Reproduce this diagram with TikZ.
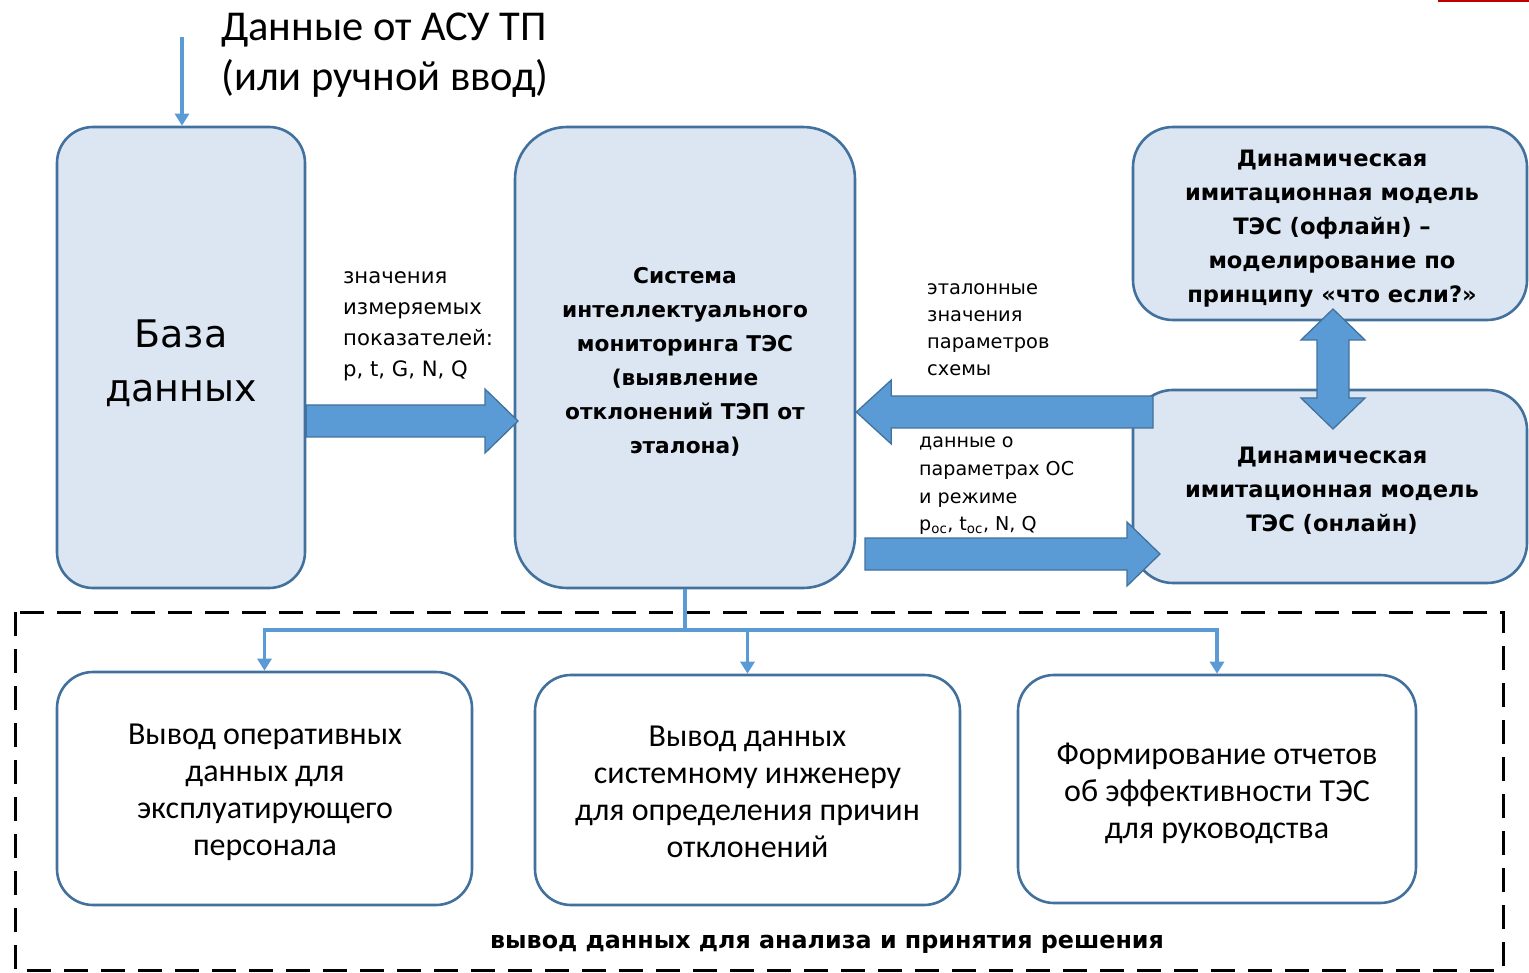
\documentclass[tikz,border=0pt]{standalone}
\usepackage{fontspec}
\setmainfont{DejaVu Sans}
\newfontfamily\calib{Carlito}
\usetikzlibrary{arrows.meta,calc}
\definecolor{boxfill}{HTML}{DCE6F2}
\definecolor{boxline}{HTML}{41719C}
\definecolor{flowblue}{HTML}{5B9BD5}
\definecolor{markred}{HTML}{C00000}
\begin{document}
\begin{tikzpicture}[x=1pt,y=-1pt,
  blockbox/.style={draw=boxline, line width=2.6pt, fill=boxfill, inner sep=0pt},
  outbox/.style={draw=boxline, line width=2.6pt, fill=white, inner sep=0pt, rounded corners=36pt},
  blocktext/.style={inner sep=0pt, align=center},
  boldtxt/.style={blocktext, font=\bfseries\fontsize{21.7}{34}\selectfont},
  modeltxt/.style={blocktext, font=\bfseries\fontsize{22.6}{34}\selectfont},
  outtxt/.style={blocktext, font=\calib\fontsize{32}{37}\selectfont},
  flowlabel/.style={inner sep=0pt, align=left, anchor=north west},
  conn/.style={draw=flowblue, line width=3.4pt},
  tipped/.style={-{Triangle[width=14pt,length=12pt]}},
  fatarrow/.style={draw=boxline, line width=1.3pt, fill=flowblue, line join=miter},
]
\useasboundingbox (0,0) rectangle (1529,973);

% mark at the upper right edge
\draw[markred, line width=3pt] (1438,1) -- (1529,1);

% main blocks
\node[blockbox, rounded corners=36pt, minimum width=248pt, minimum height=461pt] (db) at (181,357.5) {};
\node[blocktext, font=\fontsize{38}{54}\selectfont] (dbT) at (181,363) {База\\данных};
\node[blockbox, rounded corners=52pt, minimum width=340pt, minimum height=461pt] (mon) at (685,357.5) {};
\node[boldtxt] (monT) at (685,362)
      {Система\\интеллектуального\\мониторинга ТЭС\\(выявление\\отклонений ТЭП от\\эталона)};
\node[blockbox, rounded corners=40pt, minimum width=394pt, minimum height=193pt] (off) at (1330,223.5) {};
\node[modeltxt] (offT) at (1332,228.5)
      {Динамическая\\имитационная модель\\ТЭС (офлайн) –\\моделирование по\\принципу «что если?»};
\node[blockbox, rounded corners=40pt, minimum width=394pt, minimum height=193pt] (on) at (1330,486.5) {};
\node[modeltxt] (onT) at (1332,491)
      {Динамическая\\имитационная модель\\ТЭС (онлайн)};

% output group
\draw[black, line width=3pt, dash pattern=on 24pt off 13pt] (15,612) rectangle (1503,970);
\node[outbox, minimum width=415pt, minimum height=233pt] (out1) at (264.5,788.5) {};
\node[outtxt] (out1T) at (265,792.5) {Вывод оперативных\\данных для\\эксплуатирующего\\персонала};
\node[outbox, minimum width=425pt, minimum height=230pt] (out2) at (747.5,790) {};
\node[outtxt] (out2T) at (747.5,791.5) {Вывод данных\\системному инженеру\\для определения причин\\отклонений};
\node[outbox, minimum width=398pt, minimum height=228pt] (out3) at (1217,789) {};
\node[outtxt] (out3T) at (1217,793) {Формирование отчетов\\об эффективности ТЭС\\для руководства};
\node[font=\bfseries\fontsize{23.8}{28}\selectfont, inner sep=0pt] (grp) at (827,944)
      {вывод данных для анализа и принятия решения};

% input label and arrow
\node[inner sep=0pt, align=left, anchor=west, font=\calib\fontsize{42.5}{50}\selectfont]
      (src) at (221,55) {Данные от АСУ ТП\\(или ручной ввод)};
\coordinate (in) at (182,37);
\draw[conn, tipped] (in) -- (db.north -| in);

% distribution to the output blocks
\coordinate (split) at (685,630);
\draw[conn] (mon.south -| split) -- (split);
\draw[conn, tipped] (split) -| (out1.north);
\draw[conn, tipped] (split) -| (out2.north);
\draw[conn, tipped] (split) -| (out3.north);

% block arrows
\coordinate (a1s) at (db.east |- 0,421);
\coordinate (a1e) at (518,421);
\draw[fatarrow] ($(a1s)+(0,-16)$) -- ($(a1e)+(-33,-16)$) -- ($(a1e)+(-33,-32)$) -- (a1e)
  -- ($(a1e)+(-33,32)$) -- ($(a1e)+(-33,16)$) -- ($(a1s)+(0,16)$) -- cycle;

\coordinate (a2s) at (1153,412);
\coordinate (a2e) at (mon.east |- a2s);
\draw[fatarrow] ($(a2s)+(0,-16)$) -- ($(a2e)+(35,-16)$) -- ($(a2e)+(35,-32)$) -- (a2e)
  -- ($(a2e)+(35,32)$) -- ($(a2e)+(35,16)$) -- ($(a2s)+(0,16)$) -- cycle;

\coordinate (a3s) at (865,554);
\coordinate (a3e) at (1160,554);
\draw[fatarrow] ($(a3s)+(0,-16)$) -- ($(a3e)+(-33,-16)$) -- ($(a3e)+(-33,-32)$) -- (a3e)
  -- ($(a3e)+(-33,32)$) -- ($(a3e)+(-33,16)$) -- ($(a3s)+(0,16)$) -- cycle;

\coordinate (dt) at (1333,309);
\coordinate (dbm) at (1333,429);
\draw[fatarrow] (dt) -- ($(dt)+(32,31)$) -- ($(dt)+(16,31)$) -- ($(dbm)+(16,-31)$)
  -- ($(dbm)+(32,-31)$) -- (dbm) -- ($(dbm)+(-32,-31)$) -- ($(dbm)+(-16,-31)$)
  -- ($(dt)+(-16,31)$) -- ($(dt)+(-32,31)$) -- cycle;

% arrow labels
\node[flowlabel, font=\fontsize{21.2}{31.3}\selectfont] (lbl1) at (343,271)
  {значения\\измеряемых\\показателей:\\p, t, G, N, Q};
\node[flowlabel, font=\fontsize{19.4}{27.3}\selectfont] (lbl2) at (927,283)
  {эталонные\\значения\\параметров\\схемы};
\node[flowlabel, font=\fontsize{19.1}{27.6}\selectfont] (lbl3) at (919,437)
  {данные о\\параметрах ОС\\и режиме\\p\textsubscript{ос}, t\textsubscript{ос}, N, Q};
\end{tikzpicture}
\end{document}
